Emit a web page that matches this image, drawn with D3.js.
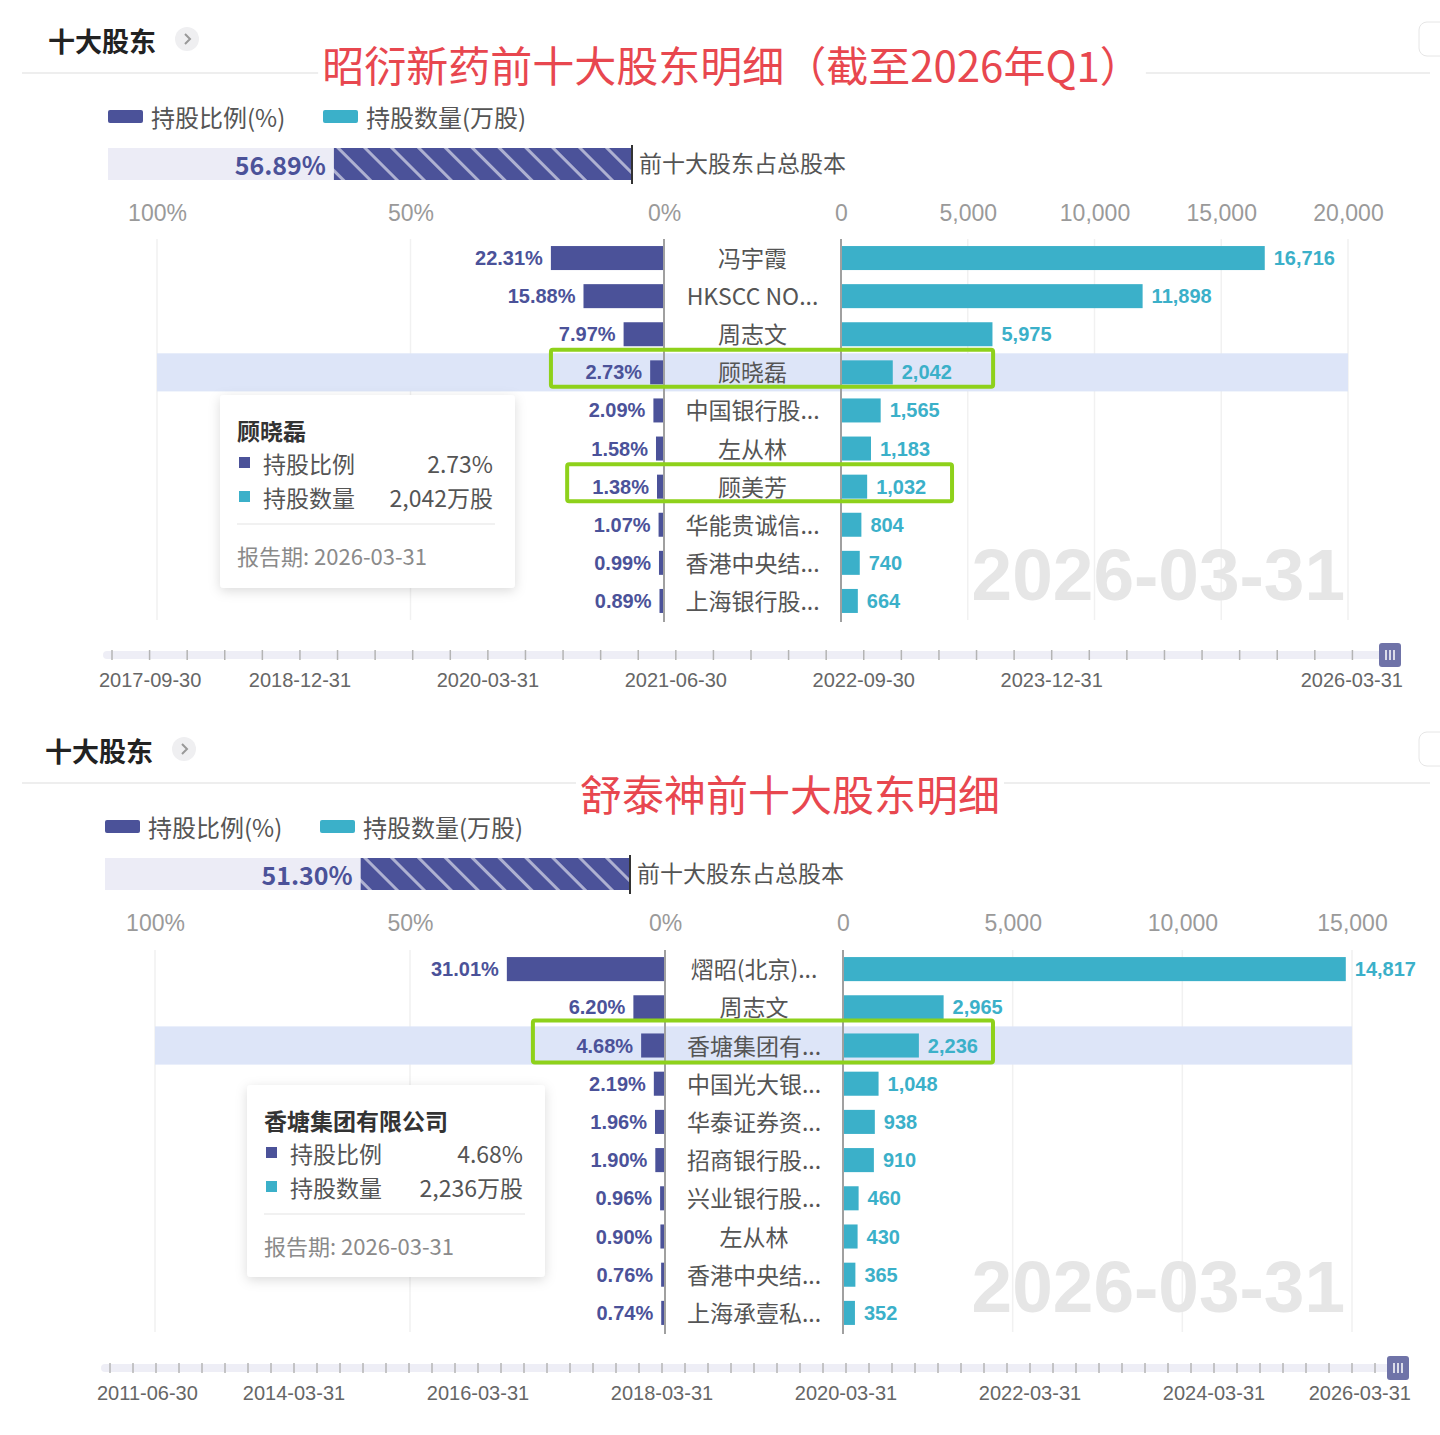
<!DOCTYPE html>
<html>
<head>
<meta charset="utf-8">
<title>十大股东</title>
<style>
  html, body { margin: 0; padding: 0; background: #fff; }
  svg text { font-family: "Noto Sans CJK SC", "Noto Sans", sans-serif; }
  svg text.num { font-family: "Liberation Sans", Arial, sans-serif; }
</style>
</head>
<body>
<svg id="chart" width="1440" height="1435"></svg>
<script src="https://cdnjs.cloudflare.com/ajax/libs/d3/7.8.5/d3.min.js"></script>
<script>

// ---- 昭衍新药 ----
var zyNames  = ["冯宇霞", "HKSCC NO...", "周志文", "顾晓磊", "中国银行股...", "左从林", "顾美芳", "华能贵诚信...", "香港中央结...", "上海银行股..."];
var zyPct    = [22.31, 15.88, 7.97, 2.73, 2.09, 1.58, 1.38, 1.07, 0.99, 0.89];
var zyShares = [16716, 11898, 5975, 2042, 1565, 1183, 1032, 804, 740, 664];
var zyTotal  = 56.89;
var zyShareTicks = [0, 5000, 10000, 15000, 20000];
var zyPeriods = ["2017-09-30", "2017-12-31",
  "2018-03-31", "2018-06-30", "2018-09-30", "2018-12-31",
  "2019-03-31", "2019-06-30", "2019-09-30", "2019-12-31",
  "2020-03-31", "2020-06-30", "2020-09-30", "2020-12-31",
  "2021-03-31", "2021-06-30", "2021-09-30", "2021-12-31",
  "2022-03-31", "2022-06-30", "2022-09-30", "2022-12-31",
  "2023-03-31", "2023-06-30", "2023-09-30", "2023-12-31",
  "2024-03-31", "2024-06-30", "2024-09-30", "2024-12-31",
  "2025-03-31", "2025-06-30", "2025-09-30", "2025-12-31",
  "2026-03-31"];
var zyPeriodLabels = ["2017-09-30", "2018-12-31", "2020-03-31", "2021-06-30", "2022-09-30", "2023-12-31", "2026-03-31"];
var zyTip = { name: "顾晓磊", fullName: "顾晓磊" };
var zyMarks = [
  { name: "顾晓磊", pctEdge: 22.3, shareEdge: 6000 },
  { name: "顾美芳", pctEdge: 19.1, shareEdge: 4380 }
];

// ---- 舒泰神 ----
var stsNames  = ["熠昭(北京)...", "周志文", "香塘集团有...", "中国光大银...", "华泰证券资...", "招商银行股...", "兴业银行股...", "左从林", "香港中央结...", "上海承壹私..."];
var stsPct    = [31.01, 6.20, 4.68, 2.19, 1.96, 1.90, 0.96, 0.90, 0.76, 0.74];
var stsShares = [14817, 2965, 2236, 1048, 938, 910, 460, 430, 365, 352];
var stsTotal  = 51.30;
var stsShareTicks = [0, 5000, 10000, 15000];
var stsPeriods = ["2011-06-30", "2011-09-30", "2011-12-31", "2012-06-30", "2012-09-30", "2012-12-31",
  "2013-06-30", "2013-12-31",
  "2014-03-31", "2014-06-30", "2014-09-30", "2014-12-31",
  "2015-03-31", "2015-06-30", "2015-09-30", "2015-12-31",
  "2016-03-31", "2016-06-30", "2016-09-30", "2016-12-31",
  "2017-03-31", "2017-06-30", "2017-09-30", "2017-12-31",
  "2018-03-31", "2018-06-30", "2018-09-30", "2018-12-31",
  "2019-03-31", "2019-06-30", "2019-09-30", "2019-12-31",
  "2020-03-31", "2020-06-30", "2020-09-30", "2020-12-31",
  "2021-03-31", "2021-06-30", "2021-09-30", "2021-12-31",
  "2022-03-31", "2022-06-30", "2022-09-30", "2022-12-31",
  "2023-03-31", "2023-06-30", "2023-09-30", "2023-12-31",
  "2024-03-31", "2024-06-30", "2024-09-30", "2024-12-31",
  "2025-03-31", "2025-06-30", "2025-09-30", "2025-12-31",
  "2026-03-31"];
var stsPeriodLabels = ["2011-06-30", "2014-03-31", "2016-03-31", "2018-03-31", "2020-03-31", "2022-03-31", "2024-03-31", "2026-03-31"];
var stsTip = { name: "香塘集团有...", fullName: "香塘集团有限公司" };
var stsMarks = [
  { name: "香塘集团有...", pctEdge: 25.9, shareEdge: 4420 }
];

var pctTicks = [100, 50, 0];
var legendNames = ["持股比例(%)", "持股数量(万股)"];

var NAVY = "#4b5299", TEAL = "#3bb0c9", RED = "#e8474f", GREEN = "#8ed11b";

var svg = d3.select("#chart");
var defs = svg.append("defs");

var hatch = defs.append("pattern")
    .attr("id", "hatch")
    .attr("patternUnits", "userSpaceOnUse")
    .attr("width", 19).attr("height", 19)
    .attr("patternTransform", "rotate(-45)");
hatch.append("rect").attr("width", 19).attr("height", 19).attr("fill", NAVY);
hatch.append("rect").attr("x", 0).attr("width", 3).attr("height", 19).attr("fill", "#ffffff").attr("opacity", 0.55);

var shadow = defs.append("filter").attr("id", "shadow")
    .attr("x", "-20%").attr("y", "-20%").attr("width", "140%").attr("height", "140%");
shadow.append("feDropShadow")
    .attr("dx", 0).attr("dy", 3).attr("stdDeviation", 6)
    .attr("flood-color", "#000").attr("flood-opacity", 0.14);

var panels = [
  { top: 0, title: "昭衍新药前十大股东明细（截至2026年Q1）", titleX: 732, titleY: 63, headX: 48,
    names: zyNames, pct: zyPct, shares: zyShares, total: zyTotal, shareTicks: zyShareTicks,
    periods: zyPeriods, periodLabels: zyPeriodLabels, tip: zyTip, marks: zyMarks,
    pctLeft: 157, pctZero: 664, shareZero: 841, shareRight: 1348,
    sumLeft: 108, sumRight: 632, rowTop: 239, rowBottom: 620,
    timeStart: 112, timeEnd: 1390, timeY: 655,
    tipBox: { x: 220, y: 395, w: 295, h: 193 }, boxH: 37 },
  { top: 710, title: "舒泰神前十大股东明细", titleX: 790, titleY: 82, headX: 45,
    names: stsNames, pct: stsPct, shares: stsShares, total: stsTotal, shareTicks: stsShareTicks,
    periods: stsPeriods, periodLabels: stsPeriodLabels, tip: stsTip, marks: stsMarks,
    pctLeft: 155, pctZero: 665, shareZero: 843, shareRight: 1352,
    sumLeft: 105, sumRight: 630, rowTop: 240, rowBottom: 622,
    timeStart: 110, timeEnd: 1398, timeY: 658,
    tipBox: { x: 247, y: 375, w: 298, h: 192 }, boxH: 42 }
];

panels.forEach(drawPanel);

function drawPanel(p) {
  var g = svg.append("g").attr("transform", "translate(0," + p.top + ")");
  var rows = p.names.map(function(n, i) { return { name: n, pct: p.pct[i], shares: p.shares[i] }; });

  // header
  g.append("line").attr("x1", 22).attr("x2", 1430).attr("y1", 73).attr("y2", 73)
      .attr("stroke", "#eeeeee").attr("stroke-width", 2);
  g.append("text").attr("x", p.headX).attr("y", 40).attr("dominant-baseline", "central")
      .attr("font-size", 27).attr("font-weight", "bold").attr("fill", "#222").text("十大股东");
  var cx = p.headX + 139;
  g.append("circle").attr("cx", cx).attr("cy", 39).attr("r", 12).attr("fill", "#efeff1");
  g.append("path").attr("d", d3.line()([[cx - 2, 34], [cx + 3, 39], [cx - 2, 44]]))
      .attr("fill", "none").attr("stroke", "#999").attr("stroke-width", 2);
  g.append("rect").attr("x", 1419).attr("y", 22).attr("width", 40).attr("height", 34).attr("rx", 8)
      .attr("fill", "#fff").attr("stroke", "#e6e6e6");

  var title = g.append("text").attr("x", p.titleX).attr("y", p.titleY)
      .attr("text-anchor", "middle").attr("dominant-baseline", "central")
      .attr("font-size", 42).attr("fill", RED).text(p.title);
  var tb = title.node().getBBox();
  g.insert("rect", function() { return title.node(); })
      .attr("x", tb.x - 4).attr("y", tb.y).attr("width", tb.width + 8).attr("height", tb.height)
      .attr("fill", "#fff");

  // legend
  [NAVY, TEAL].forEach(function(c, i) {
    var lx = p.sumLeft + i * 215;
    g.append("rect").attr("x", lx).attr("y", 110).attr("width", 35).attr("height", 13).attr("rx", 2).attr("fill", c);
    g.append("text").attr("x", lx + 43).attr("y", 116).attr("dominant-baseline", "central")
        .attr("font-size", 24).attr("fill", "#555").text(legendNames[i]);
  });

  // top ten share of total
  var xSum = d3.scaleLinear().domain([100, 0]).range([p.sumLeft, p.sumRight]);
  g.append("rect").attr("x", xSum(100)).attr("y", 148).attr("width", xSum(0) - xSum(100)).attr("height", 32)
      .attr("fill", "#ececf6");
  g.append("rect").attr("x", xSum(p.total)).attr("y", 148).attr("width", xSum(0) - xSum(p.total)).attr("height", 32)
      .attr("fill", "url(#hatch)");
  g.append("line").attr("x1", xSum(0)).attr("x2", xSum(0)).attr("y1", 145).attr("y2", 184)
      .attr("stroke", "#333").attr("stroke-width", 2);
  g.append("text").attr("x", xSum(p.total) - 8).attr("y", 164).attr("text-anchor", "end")
      .attr("dominant-baseline", "central").attr("font-family", "Noto Sans, sans-serif")
      .attr("font-size", 25).attr("font-weight", "bold").attr("fill", NAVY)
      .text(p.total.toFixed(2) + "%");
  g.append("text").attr("x", xSum(0) + 7).attr("y", 162).attr("dominant-baseline", "central")
      .attr("font-size", 23).attr("fill", "#555").text("前十大股东占总股本");

  // scales
  var xPct = d3.scaleLinear().domain([100, 0]).range([p.pctLeft, p.pctZero]);
  var xShr = d3.scaleLinear().domain([0, d3.max(p.shareTicks)]).range([p.shareZero, p.shareRight]);
  var y = d3.scaleBand().domain(p.names).range([p.rowTop, p.rowBottom])
      .paddingInner(0.37).paddingOuter(0.185);
  var midX = (p.pctZero + p.shareZero) / 2;

  // axes
  var axL = g.append("g").attr("transform", "translate(0,224)")
      .call(d3.axisTop(xPct).tickValues(pctTicks).tickSize(0).tickFormat(function(d) { return d + "%"; }));
  var axR = g.append("g").attr("transform", "translate(0,224)")
      .call(d3.axisTop(xShr).tickValues(p.shareTicks).tickSize(0).tickFormat(d3.format(",")));
  [axL, axR].forEach(function(a) {
    a.select(".domain").remove();
    a.selectAll("text").attr("class", "num").attr("font-size", 23).attr("fill", "#9a9a9a");
  });

  // grid
  g.selectAll(".gl").data(pctTicks.filter(function(t) { return t > 0; })).enter().append("line")
      .attr("x1", function(d) { return xPct(d); }).attr("x2", function(d) { return xPct(d); })
      .attr("y1", p.rowTop).attr("y2", p.rowBottom).attr("stroke", "#f1f1f1").attr("stroke-width", 1.5);
  g.selectAll(".gr").data(p.shareTicks.filter(function(t) { return t > 0; })).enter().append("line")
      .attr("x1", function(d) { return xShr(d); }).attr("x2", function(d) { return xShr(d); })
      .attr("y1", p.rowTop).attr("y2", p.rowBottom).attr("stroke", "#f1f1f1").attr("stroke-width", 1.5);

  // highlighted row
  var step = y.step();
  g.append("rect").attr("x", xPct(100)).attr("width", xShr(d3.max(p.shareTicks)) - xPct(100))
      .attr("y", y(p.tip.name) + y.bandwidth() / 2 - step / 2).attr("height", step)
      .attr("fill", "#dde5f8");

  // bars
  g.selectAll(".bp").data(rows).enter().append("rect")
      .attr("x", function(d) { return xPct(d.pct); })
      .attr("y", function(d) { return y(d.name); })
      .attr("width", function(d) { return xPct(0) - xPct(d.pct); })
      .attr("height", y.bandwidth()).attr("fill", NAVY);
  g.selectAll(".bs").data(rows).enter().append("rect")
      .attr("x", xShr(0))
      .attr("y", function(d) { return y(d.name); })
      .attr("width", function(d) { return xShr(d.shares) - xShr(0); })
      .attr("height", y.bandwidth()).attr("fill", TEAL);

  // axis lines
  [xPct(0), xShr(0)].forEach(function(x) {
    g.append("line").attr("x1", x).attr("x2", x).attr("y1", p.rowTop).attr("y2", p.rowBottom + 2)
        .attr("stroke", "#a0a0a0").attr("stroke-width", 2);
  });

  // labels
  g.selectAll(".lp").data(rows).enter().append("text").attr("class", "num")
      .attr("x", function(d) { return xPct(d.pct) - 8; })
      .attr("y", function(d) { return y(d.name) + y.bandwidth() / 2; })
      .attr("text-anchor", "end").attr("dominant-baseline", "central")
      .attr("font-size", 20).attr("font-weight", "bold").attr("fill", NAVY)
      .text(function(d) { return d.pct.toFixed(2) + "%"; });
  g.selectAll(".ls").data(rows).enter().append("text").attr("class", "num")
      .attr("x", function(d) { return xShr(d.shares) + 9; })
      .attr("y", function(d) { return y(d.name) + y.bandwidth() / 2; })
      .attr("dominant-baseline", "central")
      .attr("font-size", 20).attr("font-weight", "bold").attr("fill", TEAL)
      .text(function(d) { return d3.format(",")(d.shares); });
  g.selectAll(".ln").data(rows).enter().append("text")
      .attr("x", midX)
      .attr("y", function(d) { return y(d.name) + y.bandwidth() / 2 - 1; })
      .attr("text-anchor", "middle").attr("dominant-baseline", "central")
      .attr("font-size", 23).attr("fill", "#555")
      .text(function(d) { return d.name; });

  // green annotation boxes
  g.selectAll(".mk").data(p.marks).enter().append("rect")
      .attr("x", function(d) { return xPct(d.pctEdge); })
      .attr("y", function(d) { return y(d.name) + y.bandwidth() / 2 - 4 - p.boxH / 2; })
      .attr("width", function(d) { return xShr(d.shareEdge) - xPct(d.pctEdge); })
      .attr("height", p.boxH).attr("rx", 2)
      .attr("fill", "none").attr("stroke", GREEN).attr("stroke-width", 4);

  // watermark
  var last = p.periods[p.periods.length - 1];
  g.append("text").attr("class", "num").attr("x", 1345).attr("y", p.rowBottom - 20)
      .attr("text-anchor", "end").attr("font-size", 73).attr("font-weight", "bold")
      .attr("fill", "#e6e6e6").text(last);

  // tooltip
  var ti = p.names.indexOf(p.tip.name);
  var tt = g.append("g").attr("transform", "translate(" + p.tipBox.x + "," + p.tipBox.y + ")");
  tt.append("rect").attr("width", p.tipBox.w).attr("height", p.tipBox.h).attr("rx", 4)
      .attr("fill", "#fff").attr("filter", "url(#shadow)");
  tt.append("text").attr("x", 17).attr("y", 35).attr("dominant-baseline", "central")
      .attr("font-size", 23).attr("font-weight", "bold").attr("fill", "#333").text(p.tip.fullName);
  var tipRows = [
    { c: NAVY, k: "持股比例", v: p.pct[ti].toFixed(2) + "%" },
    { c: TEAL, k: "持股数量", v: d3.format(",")(p.shares[ti]) + "万股" }
  ];
  tipRows.forEach(function(r, i) {
    var cy = 68 + i * 34;
    tt.append("rect").attr("x", 19).attr("y", cy - 6).attr("width", 11).attr("height", 11).attr("fill", r.c);
    tt.append("text").attr("x", 43).attr("y", cy).attr("dominant-baseline", "central")
        .attr("font-size", 23).attr("fill", "#555").text(r.k);
    tt.append("text").attr("x", p.tipBox.w - 22).attr("y", cy).attr("text-anchor", "end")
        .attr("dominant-baseline", "central").attr("font-size", 23).attr("fill", "#555").text(r.v);
  });
  tt.append("line").attr("x1", 17).attr("x2", p.tipBox.w - 20).attr("y1", 129).attr("y2", 129)
      .attr("stroke", "#ececec").attr("stroke-width", 1.5);
  tt.append("text").attr("x", 17).attr("y", 160).attr("dominant-baseline", "central")
      .attr("font-size", 22).attr("fill", "#8a8a8a").text("报告期: " + last);

  // timeline
  var xt = d3.scalePoint().domain(p.periods).range([p.timeStart, p.timeEnd]);
  g.append("line").attr("x1", p.timeStart - 5).attr("x2", p.timeEnd + 5)
      .attr("y1", p.timeY).attr("y2", p.timeY)
      .attr("stroke", "#eeeef6").attr("stroke-width", 8).attr("stroke-linecap", "round");
  g.selectAll(".tk").data(p.periods).enter().append("line")
      .attr("x1", function(d) { return xt(d); }).attr("x2", function(d) { return xt(d); })
      .attr("y1", p.timeY - 5).attr("y2", p.timeY + 5)
      .attr("stroke", "#b4b4b4").attr("stroke-width", 1.5);
  g.selectAll(".tl").data(p.periodLabels).enter().append("text").attr("class", "num")
      .attr("x", function(d, i) {
        if (i === 0) return xt(d) - 13;
        if (i === p.periodLabels.length - 1) return xt(d) + 13;
        return xt(d);
      })
      .attr("y", p.timeY + 25).attr("dominant-baseline", "central")
      .attr("text-anchor", function(d, i) {
        return i === 0 ? "start" : (i === p.periodLabels.length - 1 ? "end" : "middle");
      })
      .attr("font-size", 20).attr("fill", "#666")
      .text(function(d) { return d; });
  var hx = xt(last);
  g.append("rect").attr("x", hx - 11).attr("y", p.timeY - 12).attr("width", 22).attr("height", 24).attr("rx", 3)
      .attr("fill", "#6f73a8");
  [-4, 0, 4].forEach(function(o) {
    g.append("line").attr("x1", hx + o).attr("x2", hx + o).attr("y1", p.timeY - 5).attr("y2", p.timeY + 5)
        .attr("stroke", "#fff").attr("stroke-width", 1.5);
  });
}
</script>
</body>
</html>
